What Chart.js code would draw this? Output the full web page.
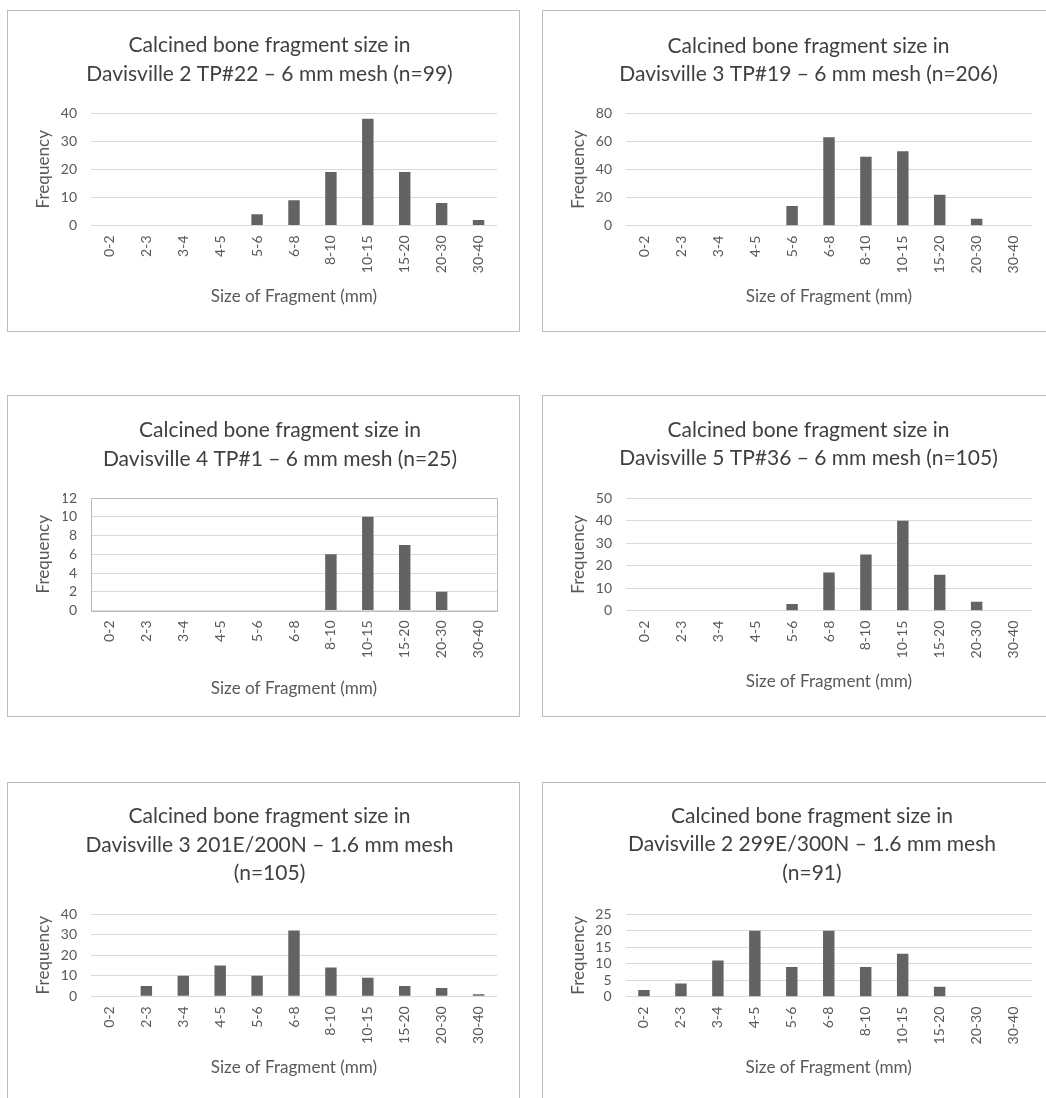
<!DOCTYPE html>
<html>
<head>
<meta charset="utf-8">
<title>Calcined bone fragment size</title>
<script src="https://cdn.jsdelivr.net/npm/chart.js@4.4.1/dist/chart.umd.min.js"></script>
<style>
  html, body { margin: 0; padding: 0; background: #ffffff; }
  body { width: 1046px; height: 1098px; overflow: hidden; position: relative; }
  .panel { position: absolute; box-sizing: border-box; border: 1px solid #bcbcbc; background: #ffffff; }
  .panel canvas { display: block; }
</style>
</head>
<body>
<script>
// Fragment size classes (mm)
const sizeBins = ['0-2', '2-3', '3-4', '4-5', '5-6', '6-8', '8-10', '10-15', '15-20', '20-30', '30-40'];

// Fragment counts per size class
const freqD2TP22   = [0, 0, 0, 0, 4, 9, 19, 38, 19, 8, 2];
const freqD3TP19   = [0, 0, 0, 0, 14, 63, 49, 53, 22, 5, 0];
const freqD4TP1    = [0, 0, 0, 0, 0, 0, 6, 10, 7, 2, 0];
const freqD5TP36   = [0, 0, 0, 0, 3, 17, 25, 40, 16, 4, 0];
const freqD3U201   = [0, 5, 10, 15, 10, 32, 14, 9, 5, 4, 1];
const freqD2U299   = [2, 4, 11, 20, 9, 20, 9, 13, 3, 0, 0];

const chartTitles = [
  ['Calcined bone fragment size in', 'Davisville 2 TP#22 \u2013 6 mm mesh (n=99)'],
  ['Calcined bone fragment size in', 'Davisville 3 TP#19 \u2013 6 mm mesh (n=206)'],
  ['Calcined bone fragment size in', 'Davisville 4 TP#1 \u2013 6 mm mesh (n=25)'],
  ['Calcined bone fragment size in', 'Davisville 5 TP#36 \u2013 6 mm mesh (n=105)'],
  ['Calcined bone fragment size in', 'Davisville 3 201E/200N \u2013 1.6 mm mesh', '(n=105)'],
  ['Calcined bone fragment size in', 'Davisville 2 299E/300N \u2013 1.6 mm mesh', '(n=91)']
];
const seriesValues = [freqD2TP22, freqD3TP19, freqD4TP1, freqD5TP36, freqD3U201, freqD2U299];

// Frequency axis range and tick step per chart
const yAxisMax  = [40, 80, 12, 50, 40, 25];
const yAxisStep = [10, 20, 2, 10, 10, 5];

const xAxisTitle = 'Size of Fragment (mm)';
const yAxisTitle = 'Frequency';

// Page placement of each panel (box, plot area, title anchors)
const panels = [
  { box: [7, 10, 513, 322],   plotX: [91, 497],    plotY: [113, 225.5],   titleX: 269.5, titleY: 45.5,  xTitleY: 296,  freqX: 43 },
  { box: [542, 10, 520, 322], plotX: [626, 1032],  plotY: [113.3, 225.7], titleX: 808.5, titleY: 45.8,  xTitleY: 296,  freqX: 578 },
  { box: [7, 395, 513, 322],  plotX: [91, 497],    plotY: [498, 610.5],   titleX: 280,   titleY: 430.5, xTitleY: 688,  freqX: 43.5, framed: true },
  { box: [542, 395, 520, 322],plotX: [626, 1032],  plotY: [498.3, 610.7], titleX: 808.5, titleY: 430,   xTitleY: 681,  freqX: 578 },
  { box: [7, 782, 513, 330],  plotX: [91, 497],    plotY: [914, 996.3],   titleX: 269.5, titleY: 816.5, xTitleY: 1067, freqX: 43 },
  { box: [542, 782, 520, 330],plotX: [625.5, 1032],plotY: [914.3, 996.7], titleX: 812,   titleY: 816,   xTitleY: 1067, freqX: 578 }
];

const FONT = 'Lato';
const measureCtx = document.createElement('canvas').getContext('2d');
function fitSize(text, width) {
  measureCtx.font = '100px ' + FONT;
  return Math.round(1000 * width / measureCtx.measureText(text).width) / 10;
}
const titleSize = fitSize('Calcined bone fragment size in', 282);
const axisTitleSize = fitSize(xAxisTitle, 166);
const tickSize = 14;
const titleLH = 28.4;
const axisLH = axisTitleSize * 1.2;

Chart.defaults.font.family = FONT;

// Outline around the plot area
const plotFrame = {
  id: 'plotFrame',
  beforeDatasetsDraw(chart) {
    const { ctx, chartArea: a } = chart;
    ctx.save();
    ctx.strokeStyle = '#bdbdbd';
    ctx.lineWidth = 1;
    const l = Math.round(a.left) + 0.5, t = Math.round(a.top) + 0.5;
    const r = Math.round(a.right) + 0.5, b = Math.round(a.bottom) + 0.5;
    ctx.strokeRect(l, t, r - l, b - t);
    ctx.restore();
  }
};

panels.forEach((p, i) => {
  const div = document.createElement('div');
  div.className = 'panel';
  div.style.left = p.box[0] + 'px';
  div.style.top = p.box[1] + 'px';
  div.style.width = p.box[2] + 'px';
  div.style.height = p.box[3] + 'px';
  document.body.appendChild(div);

  const W = p.box[2] - 2, H = p.box[3] - 2;
  const canvas = document.createElement('canvas');
  canvas.width = W; canvas.height = H;
  canvas.style.width = W + 'px'; canvas.style.height = H + 'px';
  div.appendChild(canvas);

  const ox = p.box[0] + 1, oy = p.box[1] + 1;
  const pl = p.plotX[0] - ox, pr = p.plotX[1] - ox;
  const pt = p.plotY[0] - oy, pb = p.plotY[1] - oy;
  const tc = p.titleX - ox;
  const padL = 2 * tc - pr;
  const padR = W - pr;
  const lines = chartTitles[i];
  const titleTop = p.titleY - oy - titleLH / 2;
  const titleBottom = pt - titleTop - lines.length * titleLH;

  new Chart(canvas, {
    type: 'bar',
    data: {
      labels: sizeBins,
      datasets: [{
        data: seriesValues[i],
        backgroundColor: '#636366',
        borderWidth: 0,
        barPercentage: 0.31,
        categoryPercentage: 1
      }]
    },
    options: {
      responsive: false,
      animation: false,
      devicePixelRatio: 1,
      events: [],
      layout: { padding: { left: padL, right: padR, top: 0, bottom: 0 } },
      plugins: {
        legend: { display: false },
        tooltip: { enabled: false },
        title: {
          display: true,
          text: lines,
          color: '#404040',
          font: { size: titleSize, weight: 'normal', lineHeight: titleLH + 'px' },
          padding: { top: titleTop, bottom: titleBottom }
        }
      },
      scales: {
        x: {
          grid: { display: false, drawTicks: false },
          border: { display: false },
          ticks: {
            color: '#595959',
            font: { size: tickSize },
            minRotation: 90, maxRotation: 90,
            autoSkip: false,
            padding: 10
          },
          title: {
            display: true,
            text: xAxisTitle,
            color: '#595959',
            font: { size: axisTitleSize },
            padding: { top: 0, bottom: H - (p.xTitleY - oy) - axisLH / 2 }
          },
          afterFit: s => { s.height = H - pb; }
        },
        y: {
          min: 0,
          max: yAxisMax[i],
          ticks: { stepSize: yAxisStep[i], autoSkip: false, color: '#595959', font: { size: tickSize }, padding: 14 },
          grid: { color: '#d9d9d9', lineWidth: 1, drawTicks: false },
          border: { display: false },
          title: {
            display: true,
            text: yAxisTitle,
            color: '#595959',
            font: { size: axisTitleSize },
            padding: { top: (p.freqX - ox) - padL - axisLH / 2, bottom: 0 }
          },
          afterFit: s => { s.width = pl - padL; }
        }
      }
    },
    plugins: p.framed ? [plotFrame] : []
  });
});
</script>
</body>
</html>
